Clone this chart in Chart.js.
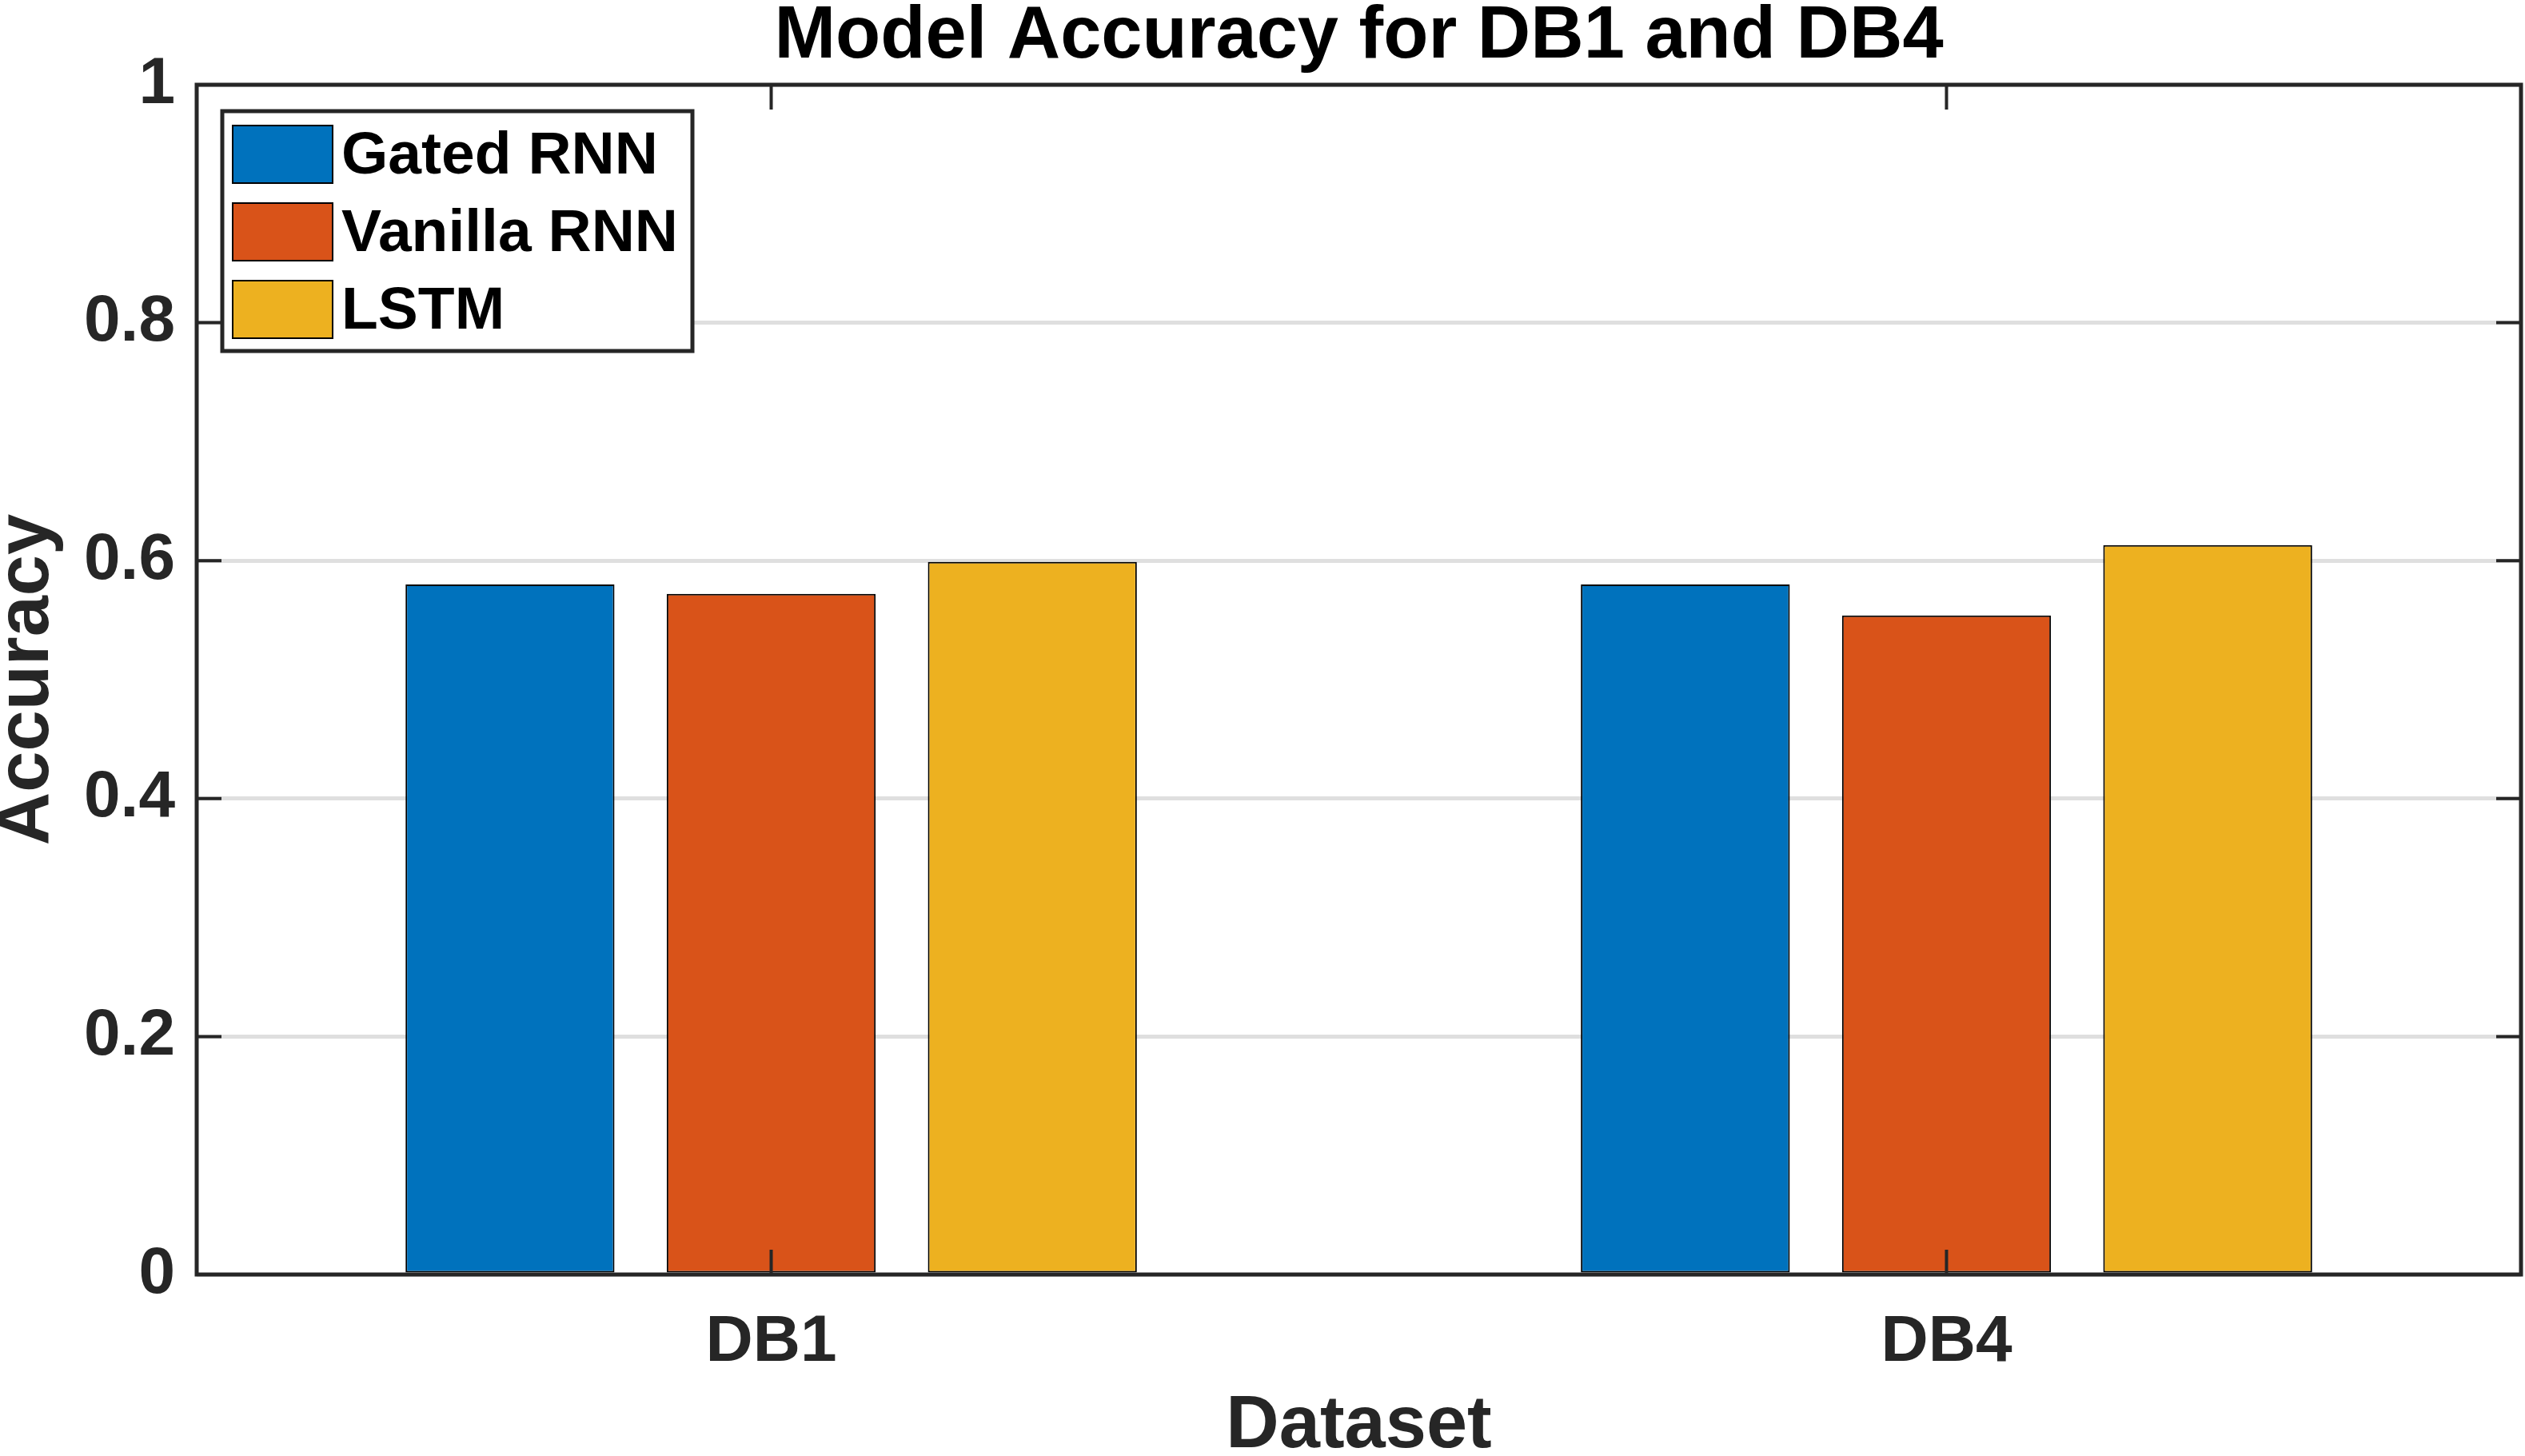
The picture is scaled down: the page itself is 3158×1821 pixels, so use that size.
<!DOCTYPE html>
<html>
<head>
<meta charset="utf-8">
<script src="https://cdn.jsdelivr.net/npm/chart.js@4/dist/chart.umd.min.js"></script>
<style>
  html, body { margin: 0; padding: 0; background: #ffffff; }
  canvas { display: block; }
</style>
</head>
<body>
<canvas id="c" width="3158" height="1821"></canvas>
<script>
// ---- data ----
const categories = ['DB1', 'DB4'];
const categoryPositions = [1, 2];
const seriesNames = ['Gated RNN', 'Vanilla RNN', 'LSTM'];
const gatedRNN = [0.580, 0.580];
const vanillaRNN = [0.572, 0.554];
const lstm = [0.599, 0.613];
const yTicks = [0, 0.2, 0.4, 0.6, 0.8, 1];
const yTickLabels = ['0', '0.2', '0.4', '0.6', '0.8', '1'];
const seriesColors = ['#0072BD', '#D95319', '#EDB120'];
const chartTitle = 'Model Accuracy for DB1 and DB4';
const xTitle = 'Dataset';
const yTitle = 'Accuracy';

const seriesValues = [gatedRNN, vanillaRNN, lstm];
const datasets = seriesNames.map((name, i) => ({
  label: name,
  data: categoryPositions.map((x, j) => ({ x: x, y: seriesValues[i][j] })),
  backgroundColor: seriesColors[i],
  borderColor: '#000000',
  borderWidth: 2,
  borderSkipped: false,
  categoryPercentage: 2 / 3,
  barPercentage: 0.8
}));

const AXIS = '#262626';
const FONT = '"Liberation Sans", Arial, Helvetica, sans-serif';

// Box, inward ticks and legend (MATLAB style)
const matlabAxes = {
  id: 'matlabAxes',
  afterDatasetsDraw(chart) {
    const { ctx, chartArea: a, scales } = chart;
    ctx.save();
    ctx.strokeStyle = AXIS;
    ctx.lineWidth = 4;
    const tl = 31;
    ctx.beginPath();
    scales.y.ticks.forEach(t => {
      const y = scales.y.getPixelForValue(t.value);
      ctx.moveTo(a.left, y); ctx.lineTo(a.left + tl, y);
      ctx.moveTo(a.right, y); ctx.lineTo(a.right - tl, y);
    });
    scales.x.ticks.forEach(t => {
      const x = scales.x.getPixelForValue(t.value);
      ctx.moveTo(x, a.bottom); ctx.lineTo(x, a.bottom - tl);
      ctx.moveTo(x, a.top); ctx.lineTo(x, a.top + tl);
    });
    ctx.stroke();
    ctx.lineWidth = 5;
    ctx.strokeRect(a.left, a.top, a.right - a.left, a.bottom - a.top);
    ctx.restore();
  },
  afterDraw(chart) {
    const { ctx, chartArea: a } = chart;
    const bx = a.left + 32, by = a.top + 33, bw = 588, bh = 300;
    ctx.save();
    ctx.fillStyle = '#ffffff';
    ctx.fillRect(bx, by, bw, bh);
    ctx.lineWidth = 5;
    ctx.strokeStyle = AXIS;
    ctx.strokeRect(bx, by, bw, bh);
    ctx.font = 'bold 75px ' + FONT;
    ctx.textBaseline = 'middle';
    ctx.textAlign = 'left';
    chart.data.datasets.forEach((ds, i) => {
      const sy = by + 18 + i * 97;
      ctx.fillStyle = ds.backgroundColor;
      ctx.fillRect(bx + 13, sy, 125, 72);
      ctx.lineWidth = 2;
      ctx.strokeStyle = '#000000';
      ctx.strokeRect(bx + 13, sy, 125, 72);
      ctx.fillStyle = '#000000';
      ctx.fillText(ds.label, bx + 149, sy + 39);
    });
    ctx.restore();
  }
};

new Chart(document.getElementById('c'), {
  type: 'bar',
  data: { datasets: datasets },
  plugins: [matlabAxes],
  options: {
    responsive: false,
    animation: false,
    devicePixelRatio: 1,
    layout: { padding: { left: 0, right: 5, top: 0, bottom: 0 } },
    plugins: {
      legend: { display: false },
      tooltip: { enabled: false },
      title: {
        display: true,
        text: chartTitle,
        fullSize: false,
        color: '#000000',
        font: { family: FONT, size: 92, weight: 'bold', lineHeight: 0.8 },
        padding: { top: 10, bottom: 22.4 }
      }
    },
    scales: {
      x: {
        type: 'linear',
        min: 0.5112,
        max: 2.4888,
        offset: false,
        afterBuildTicks: s => { s.ticks = categoryPositions.map(v => ({ value: v })); },
        afterFit: s => { s.height = 227; },
        grid: { display: false, drawTicks: false },
        border: { display: false },
        ticks: {
          color: AXIS,
          padding: 36,
          maxRotation: 0,
          autoSkip: false,
          font: { family: FONT, size: 82, weight: 'bold' },
          callback: (v) => categories[categoryPositions.indexOf(v)]
        },
        title: {
          display: true,
          text: xTitle,
          color: AXIS,
          font: { family: FONT, size: 92, weight: 'bold', lineHeight: 0.78 },
          padding: 0
        }
      },
      y: {
        min: 0,
        max: 1,
        afterBuildTicks: s => { s.ticks = yTicks.map(v => ({ value: v })); },
        afterFit: s => { s.width = 246; },
        grid: { color: '#dfdfdf', lineWidth: 5, drawTicks: false },
        border: { display: false },
        ticks: {
          color: AXIS,
          padding: 27,
          font: { family: FONT, size: 82, weight: 'bold' },
          callback: (v) => yTickLabels[yTicks.indexOf(v)]
        },
        title: {
          display: true,
          text: yTitle,
          color: AXIS,
          font: { family: FONT, size: 92, weight: 'bold', lineHeight: 0.76 },
          padding: 0
        }
      }
    }
  }
});
</script>
</body>
</html>
